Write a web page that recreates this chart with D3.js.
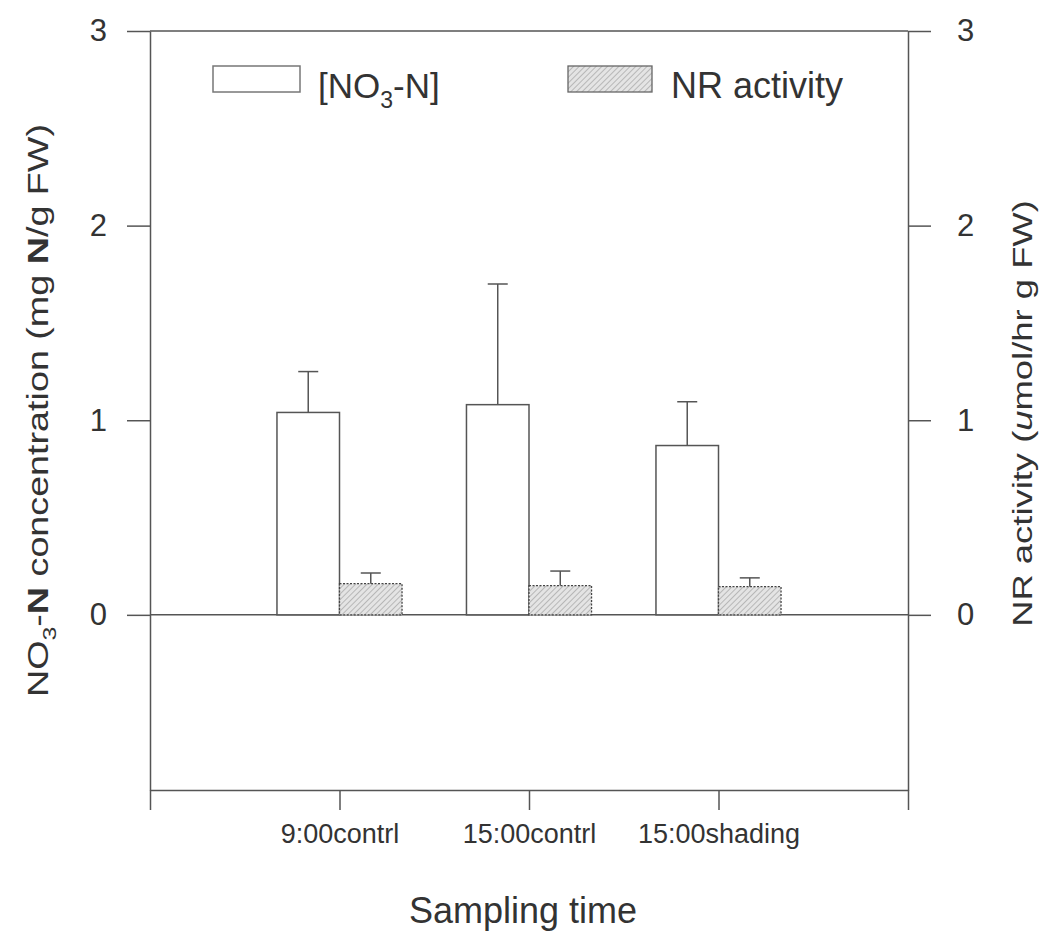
<!DOCTYPE html>
<html lang="en">
<head>
    <meta charset="UTF-8">
    <title>NO3-N and NR activity</title>
    <script src="https://d3js.org/d3.v7.min.js"></script>
    <style>
        body { margin: 0; background: #fff; }
        svg { display: block; }
        text { font-family: "Liberation Sans", Arial, sans-serif; fill: #333; }
    </style>
</head>
<body>
    <svg></svg>

    <script>
        // data
        const categories = ["9:00contrl", "15:00contrl", "15:00shading"];
        const no3 = [1.04, 1.08, 0.87];
        const no3Err = [0.21, 0.62, 0.225];
        const nrActivity = [0.16, 0.15, 0.145];
        const nrErr = [0.055, 0.075, 0.045];
        const yTicks = [0, 1, 2, 3];

        const width = 1044;
        const height = 936;
        const margin = {'top': 31, 'bottom': 146, 'left': 150, 'right': 136};
        const lineColor = '#555';

        const svg = d3.select('svg')
            .attr('width', width)
            .attr('height', height)
            .attr('viewBox', [0, 0, width, height]);

        // hatch for the NR bars
        const defs = svg.append('defs');
        const pat = defs.append('pattern')
            .attr('id', 'hatch')
            .attr('patternUnits', 'userSpaceOnUse')
            .attr('width', 4).attr('height', 4)
            .attr('patternTransform', 'rotate(45)');
        pat.append('rect').attr('width', 4).attr('height', 4).attr('fill', '#e4e4e4');
        pat.append('line').attr('x1', 0).attr('y1', 0).attr('x2', 0).attr('y2', 4)
            .attr('stroke', '#999').attr('stroke-width', 1.2);

        const x_scale = d3.scaleLinear().domain([0, 4]).range([margin.left, width - margin.right]);
        const y_scale = d3.scaleLinear().domain([-0.9, 3]).range([height - margin.bottom, margin.top]);
        const barW = x_scale(0.33) - x_scale(0);
        const capW = 20;

        const rows = categories.map((c, i) => ({
            cat: c, pos: i + 1,
            no3: no3[i], no3Err: no3Err[i],
            nr: nrActivity[i], nrErr: nrErr[i]
        }));

        // frame
        const x0 = x_scale.range()[0], x1 = x_scale.range()[1];
        const yTop = y_scale.range()[1], yBot = y_scale.range()[0];
        svg.append('line').attr('x1', x0).attr('x2', x1).attr('y1', yTop).attr('y2', yTop)
            .attr('stroke', lineColor).attr('stroke-width', 1.5);

        // zero line
        svg.append('line').attr('x1', x0).attr('x2', x1)
            .attr('y1', y_scale(0)).attr('y2', y_scale(0))
            .attr('stroke', lineColor).attr('stroke-width', 1.5);

        // axes
        const left_axis = d3.axisLeft(y_scale).tickValues(yTicks).tickFormat(d3.format('d'))
            .tickSize(23).tickSizeOuter(0).tickPadding(20);
        const right_axis = d3.axisRight(y_scale).tickValues(yTicks).tickFormat(d3.format('d'))
            .tickSize(23).tickSizeOuter(0).tickPadding(26);
        const bottom_axis = d3.axisBottom(x_scale).tickValues([0, 1, 2, 3, 4])
            .tickSize(20).tickSizeOuter(0).tickPadding(14)
            .tickFormat(d => (d >= 1 && d <= 3) ? categories[d - 1] : '');

        function styleAxis(g, fs) {
            g.selectAll('path, line').attr('stroke', lineColor).attr('stroke-width', 1.5);
            g.selectAll('text').style('font-size', fs + 'px').attr('fill', '#333');
        }

        svg.append('g')
            .attr('transform', `translate(${x0},0)`)
            .call(left_axis)
            .call(g => styleAxis(g, 31));

        svg.append('g')
            .attr('transform', `translate(${x1},0)`)
            .call(right_axis)
            .call(g => styleAxis(g, 31));

        svg.append('g')
            .attr('transform', `translate(0,${yBot})`)
            .call(bottom_axis)
            .call(g => styleAxis(g, 27));

        // NO3 bars
        svg.selectAll('rect.no3')
            .data(rows)
            .join('rect')
            .attr('class', 'no3')
            .attr('x', d => x_scale(d.pos) - barW)
            .attr('y', d => y_scale(d.no3))
            .attr('width', barW)
            .attr('height', d => y_scale(0) - y_scale(d.no3))
            .attr('fill', '#fff')
            .attr('stroke', lineColor)
            .attr('stroke-width', 1.5);

        // NR bars
        svg.selectAll('rect.nr')
            .data(rows)
            .join('rect')
            .attr('class', 'nr')
            .attr('x', d => x_scale(d.pos))
            .attr('y', d => y_scale(d.nr))
            .attr('width', barW)
            .attr('height', d => y_scale(0) - y_scale(d.nr))
            .attr('fill', 'url(#hatch)')
            .attr('stroke', '#444')
            .attr('stroke-width', 1.3)
            .attr('stroke-dasharray', '2,1.5');

        // error bars
        function errorBars(cls, cx, val, err) {
            const g = svg.selectAll('g.' + cls).data(rows).join('g').attr('class', cls);
            g.append('line')
                .attr('x1', cx).attr('x2', cx)
                .attr('y1', d => y_scale(val(d)))
                .attr('y2', d => y_scale(val(d) + err(d)))
                .attr('stroke', lineColor).attr('stroke-width', 1.5);
            g.append('line')
                .attr('x1', d => cx(d) - capW / 2).attr('x2', d => cx(d) + capW / 2)
                .attr('y1', d => y_scale(val(d) + err(d)))
                .attr('y2', d => y_scale(val(d) + err(d)))
                .attr('stroke', lineColor).attr('stroke-width', 1.5);
        }
        errorBars('err-no3', d => x_scale(d.pos) - barW / 2, d => d.no3, d => d.no3Err);
        errorBars('err-nr', d => x_scale(d.pos) + barW / 2, d => d.nr, d => d.nrErr);

        // legend
        const legend = svg.append('g');
        legend.append('rect').attr('x', 213).attr('y', 66).attr('width', 87).attr('height', 26)
            .attr('fill', '#fff').attr('stroke', '#777').attr('stroke-width', 1.5);
        const t1 = legend.append('text').attr('x', 318).attr('y', 98).style('font-size', '35px');
        t1.append('tspan').text('[NO');
        t1.append('tspan').attr('dy', 10).style('font-size', '23px').text('3');
        t1.append('tspan').attr('dy', -10).text('-N]');

        legend.append('rect').attr('x', 568).attr('y', 66).attr('width', 84).attr('height', 26)
            .attr('fill', 'url(#hatch)').attr('stroke', '#666').attr('stroke-width', 1.3);
        legend.append('text').attr('x', 671).attr('y', 98).style('font-size', '36px').text('NR activity');

        // axis titles (the scan is stretched along y, so the rotated titles are too)
        const lt = svg.append('text')
            .attr('transform', `translate(48,${(yTop + yBot) / 2}) scale(1,1.3) rotate(-90)`)
            .attr('text-anchor', 'middle')
            .style('font-size', '29px');
        lt.append('tspan').text('NO');
        lt.append('tspan').attr('dy', 8).style('font-size', '19px').text('3');
        lt.append('tspan').attr('dy', -8).text('-');
        lt.append('tspan').style('font-weight', 'bold').text('N');
        lt.append('tspan').text(' concentration (mg ');
        lt.append('tspan').style('font-weight', 'bold').text('N');
        lt.append('tspan').text('/g FW)');

        const rt = svg.append('text')
            .attr('transform', `translate(1032,${(yTop + yBot) / 2 + 3}) scale(1,1.3) rotate(-90)`)
            .attr('text-anchor', 'middle')
            .style('font-size', '28px');
        rt.append('tspan').text('NR activity (');
        rt.append('tspan').style('font-style', 'italic').text('u');
        rt.append('tspan').text('mol/hr g FW)');

        svg.append('text')
            .attr('x', (x0 + x1) / 2 - 6)
            .attr('y', 923)
            .attr('text-anchor', 'middle')
            .style('font-size', '36px')
            .text('Sampling time');
    </script>
</body>
</html>
